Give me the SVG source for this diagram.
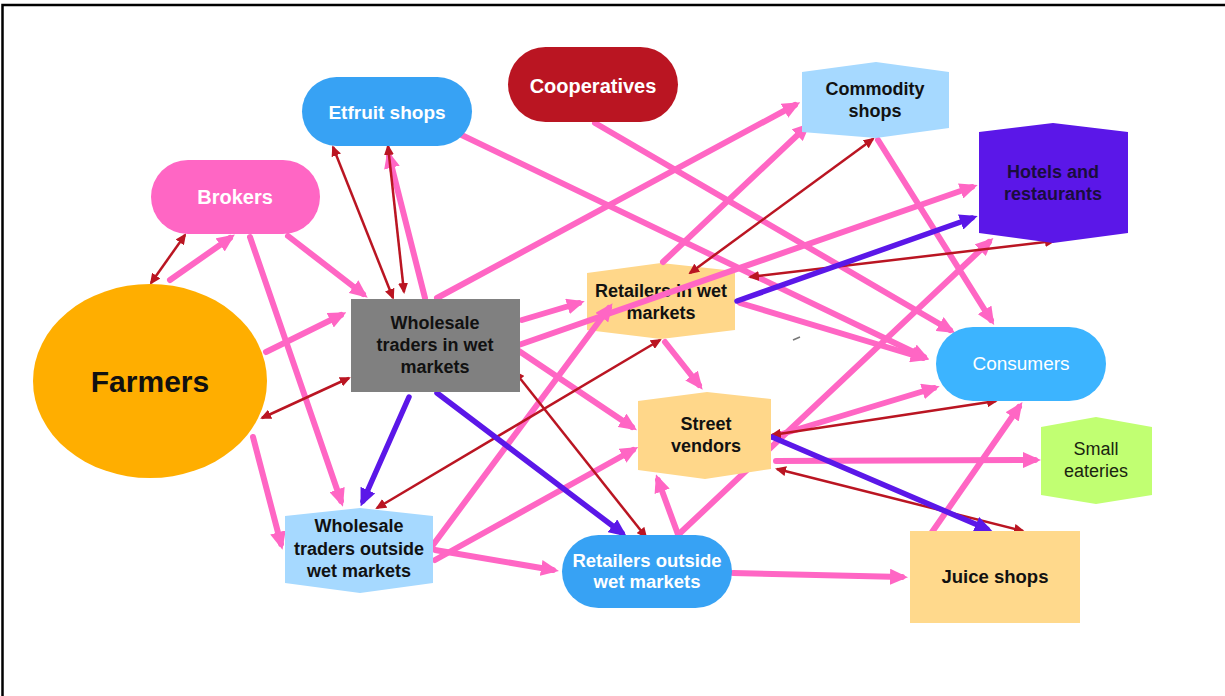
<svg xmlns="http://www.w3.org/2000/svg" width="1225" height="696" viewBox="0 0 1225 696">
<style>
.t{font-family:"Liberation Sans",Arial,sans-serif;text-anchor:middle;font-weight:bold}
.w{fill:#ffffff}
.k{fill:#111111}
.n{font-weight:normal}
.p{stroke:#FF66C4;stroke-width:6;fill:none;stroke-linecap:round;marker-end:url(#ap)}
.r{stroke:#BA1522;stroke-width:2.5;fill:none;marker-start:url(#ar);marker-end:url(#ar)}
.u{stroke:#5B17E8;stroke-width:5.5;fill:none;stroke-linecap:round;marker-end:url(#au)}
</style>
<defs>
<marker id="ap" markerUnits="userSpaceOnUse" markerWidth="18" markerHeight="16" viewBox="0 0 18 16" refX="12" refY="8" orient="auto-start-reverse"><path d="M0,0 L18,8 L0,16 z" fill="#FF66C4"/></marker>
<marker id="au" markerUnits="userSpaceOnUse" markerWidth="18" markerHeight="16" viewBox="0 0 18 16" refX="12" refY="8" orient="auto-start-reverse"><path d="M0,0 L18,8 L0,16 z" fill="#5B17E8"/></marker>
<marker id="ar" markerUnits="userSpaceOnUse" markerWidth="11" markerHeight="10" viewBox="0 0 11 10" refX="9" refY="5" orient="auto-start-reverse"><path d="M0,0 L11,5 L0,10 z" fill="#BA1522"/></marker>
</defs>
<rect width="1225" height="696" fill="#ffffff"/>
<path d="M2.5,696 V5 H1225" fill="none" stroke="#000" stroke-width="2.5"/>

<g id="retailers-wet">
<polygon points="587,273 661,263 735,271 735,330 661,339 587,330" fill="#FFD78A"/>
<text class="t k" x="661" y="297" font-size="18">Retailers in wet</text>
<text class="t k" x="661" y="319" font-size="18">markets</text>
</g>

<g id="connectors">
<line class="p" x1="170" y1="280" x2="230" y2="238"/>
<line class="p" x1="288" y1="236" x2="363" y2="294"/>
<line class="p" x1="250" y1="237" x2="341" y2="501"/>
<line class="p" x1="266" y1="352" x2="341" y2="315"/>
<line class="p" x1="253" y1="437" x2="281" y2="544"/>
<line class="p" x1="425" y1="298" x2="389" y2="156"/>
<line class="p" x1="447" y1="128" x2="924" y2="357"/>
<line class="p" x1="595" y1="123" x2="950" y2="330"/>
<line class="p" x1="437" y1="298" x2="795" y2="105"/>
<line class="p" x1="663" y1="262" x2="806" y2="127"/>
<line class="p" x1="878" y1="140" x2="991" y2="320"/>
<line class="p" x1="522" y1="320" x2="579" y2="303"/>
<line class="p" x1="513" y1="347" x2="972" y2="187"/>
<line class="p" x1="513" y1="347" x2="632" y2="427"/>
<line class="p" x1="665" y1="342" x2="699" y2="385"/>
<line class="p" x1="740" y1="303" x2="923" y2="358"/>
<line class="p" x1="433" y1="545" x2="609" y2="308"/>
<line class="p" x1="435" y1="560" x2="633" y2="450"/>
<line class="p" x1="435" y1="550" x2="553" y2="570"/>
<line class="p" x1="678" y1="535" x2="989" y2="242"/>
<line class="p" x1="683" y1="548" x2="658" y2="480"/>
<line class="p" x1="733" y1="573" x2="902" y2="577"/>
<line class="p" x1="772" y1="437" x2="934" y2="388"/>
<line class="p" x1="776" y1="461" x2="1035" y2="460"/>
<line class="p" x1="930" y1="535" x2="1019" y2="407"/>

<line class="r" x1="151" y1="283" x2="185" y2="235"/>
<line class="r" x1="262" y1="418" x2="349" y2="378"/>
<line class="r" x1="333" y1="147" x2="393" y2="298"/>
<line class="r" x1="388" y1="146" x2="404" y2="292"/>
<line class="r" x1="377" y1="508" x2="660" y2="340"/>
<line class="r" x1="515" y1="372" x2="646" y2="537"/>
<line class="r" x1="873" y1="139" x2="690" y2="273"/>
<line class="r" x1="750" y1="277" x2="1054" y2="241"/>
<line class="r" x1="772" y1="435" x2="996" y2="401"/>
<line class="r" x1="777" y1="469" x2="1023" y2="531"/>

<line class="u" x1="409" y1="397" x2="363" y2="501"/>
<line class="u" x1="437" y1="393" x2="622" y2="533"/>
<line class="u" x1="737" y1="301" x2="972" y2="218"/>
<line class="u" x1="772" y1="437" x2="987" y2="529"/>
<line x1="793" y1="340" x2="800" y2="337" stroke="#777" stroke-width="1.5"/>
</g>

<g id="farmers">
<ellipse cx="150" cy="381" rx="117" ry="97" fill="#FFAE00"/>
<text class="t k" x="150" y="392" font-size="30">Farmers</text>
</g>
<g id="brokers">
<rect x="151" y="160" width="169" height="74" rx="37" fill="#FF66C4"/>
<text class="t w" x="235" y="204" font-size="20">Brokers</text>
</g>
<g id="etfruit-shops">
<rect x="302" y="77" width="170" height="69" rx="34.5" fill="#37A2F4"/>
<text class="t w" x="387" y="119" font-size="19">Etfruit shops</text>
</g>
<g id="cooperatives">
<rect x="508" y="47" width="170" height="75" rx="37.5" fill="#BA1522"/>
<text class="t w" x="593" y="93" font-size="20">Cooperatives</text>
</g>
<g id="commodity-shops">
<polygon points="802,72 876,62 949,72 949,128 876,138 802,132" fill="#A6D9FF"/>
<text class="t k" x="875" y="95" font-size="18">Commodity</text>
<text class="t k" x="875" y="117" font-size="18">shops</text>
</g>
<g id="hotels-restaurants">
<polygon points="979,132 1053,123 1128,132 1128,233 1053,243 979,233" fill="#5B17E8"/>
<text class="t" x="1053" y="178" font-size="18" fill="#1A0D3D">Hotels and</text>
<text class="t" x="1053" y="200" font-size="18" fill="#1A0D3D">restaurants</text>
</g>
<g id="wholesale-wet">
<rect x="351" y="299" width="169" height="93" fill="#808080"/>
<text class="t k" x="435" y="329" font-size="18">Wholesale</text>
<text class="t k" x="435" y="351" font-size="18">traders in wet</text>
<text class="t k" x="435" y="373" font-size="18">markets</text>
</g>
<g id="street-vendors">
<polygon points="638,401 707,392 771,399 771,469 705,479 638,470" fill="#FFD78A"/>
<text class="t k" x="706" y="430" font-size="18">Street</text>
<text class="t k" x="706" y="452" font-size="18">vendors</text>
</g>
<g id="consumers">
<rect x="936" y="327" width="170" height="74" rx="37" fill="#3CB4FF"/>
<text class="t w n" x="1021" y="370" font-size="19">Consumers</text>
</g>
<g id="small-eateries">
<polygon points="1041,427 1096,417 1152,427 1152,495 1096,504 1041,495" fill="#C1FF72"/>
<text class="t n" x="1096" y="455" font-size="18" fill="#1a2410">Small</text>
<text class="t n" x="1096" y="477" font-size="18" fill="#1a2410">eateries</text>
</g>
<g id="juice-shops">
<rect x="910" y="531" width="170" height="92" fill="#FFD98C"/>
<text class="t k" x="995" y="583" font-size="18.5">Juice shops</text>
</g>
<g id="wholesale-outside">
<polygon points="285,516 360,508 433,516 433,583 360,593 285,583" fill="#A6D9FF"/>
<text class="t k" x="359" y="532" font-size="18">Wholesale</text>
<text class="t k" x="359" y="555" font-size="18">traders outside</text>
<text class="t k" x="359" y="577" font-size="18">wet markets</text>
</g>
<g id="retailers-outside">
<rect x="562" y="535" width="170" height="73" rx="36.5" fill="#37A2F4"/>
<text class="t w" x="647" y="567" font-size="18.5">Retailers outside</text>
<text class="t w" x="647" y="588" font-size="18.5">wet markets</text>
</g>
</svg>
